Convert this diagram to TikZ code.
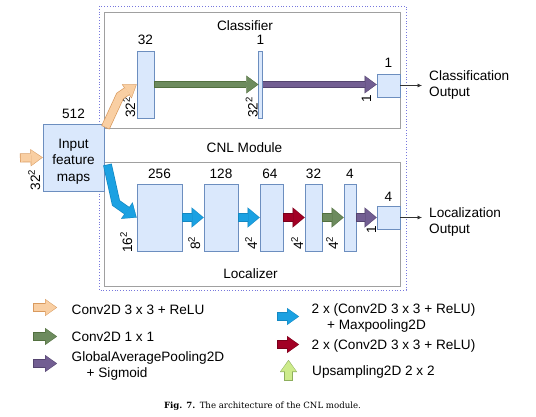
\documentclass[tikz,border=0pt]{standalone}
\usepackage{fontspec}
\setmainfont{Liberation Sans}
\newfontfamily\capfont{DejaVu Serif}
\usetikzlibrary{arrows.meta,calc}
\definecolor{blkfill}{HTML}{DAE8FC}
\definecolor{blkedge}{HTML}{6C8EBF}
\definecolor{boxedge}{HTML}{A0A0A0}
\definecolor{dotedge}{HTML}{7777DD}
\definecolor{orfill}{HTML}{F9CFA3}
\definecolor{oredge}{HTML}{D99A5E}
\definecolor{grfill}{HTML}{6D8B5E}
\definecolor{gredge}{HTML}{52703F}
\definecolor{pufill}{HTML}{725E92}
\definecolor{puedge}{HTML}{54446F}
\definecolor{blfill}{HTML}{1BA1E2}
\definecolor{bledge}{HTML}{1488C2}
\definecolor{rdfill}{HTML}{A20025}
\definecolor{rdedge}{HTML}{78001B}
\definecolor{lgfill}{HTML}{CDEB8B}
\definecolor{lgedge}{HTML}{8DAE5C}
\tikzset{
  blk/.style={draw=blkedge, fill=blkfill, line width=0.8pt, inner sep=0pt},
  txt/.style={inner sep=0pt, anchor=base},
  rtxt/.style={inner sep=0pt, anchor=base, rotate=90},
  ltxt/.style={inner sep=0pt, anchor=base west, align=left},
  gbox/.style={draw=boxedge, line width=1pt},
  dotbox/.style={draw=dotedge, line width=0.8pt, dotted},
  smallout/.style={line width=6.9pt, -{Triangle[width=17.6pt,length=12pt,line width=0.01pt]}},
  smallin/.style={line width=5.5pt, -{Triangle[width=15.6pt,length=10.3pt,line width=0.01pt]}, shorten >=1pt, shorten <=0.7pt},
  bigout/.style={line width=8.8pt, -{Triangle[width=20pt,length=12pt,line width=0.01pt]}},
  bigin/.style={line width=7.4pt, -{Triangle[width=18pt,length=10.3pt,line width=0.01pt]}, shorten >=1pt, shorten <=0.7pt},
  legout/.style={line width=9pt, -{Triangle[width=17pt,length=12pt,line width=0.01pt]}},
  legin/.style={line width=7.6pt, -{Triangle[width=15pt,length=10.3pt,line width=0.01pt]}, shorten >=1pt, shorten <=0.7pt},
  thinarr/.style={draw=black!80, line width=0.6pt, -{Latex[length=4.5pt,width=4pt]}},
}
\newcommand\fatarr[4]{\draw[#1out,draw=#2] #4; \draw[#1in,draw=#3] #4;}
\begin{document}
\begin{tikzpicture}[x=1pt,y=-1pt,font=\fontsize{13.6}{16.5}\selectfont]
\useasboundingbox (0,0) rectangle (536,417);
% frames
\draw[dotbox] (99,6) rectangle (406,290);
\draw[gbox] (104,12.5) rectangle (400,129);
\draw[gbox] (104,163) rectangle (400,286);
\node[txt] (tcls) at (245,30.5) {Classifier};
\node[txt] (tcnl) at (244.5,153) {CNL Module};
\node[txt] (tloc) at (250.5,278) {Localizer};
% input
\node[blk, minimum width=61pt, minimum height=67pt] (in) at (73.5,157.5) {};
\node[txt, align=center] (intxt) at (73.5,181.5) {Input\\feature\\maps};
\node[txt] (n512) at (73.5,119) {512};
\node[rtxt] (rin) at (40,180) {32\textsuperscript{2}};
\coordinate (inSrc) at (20,158);
\fatarr{leg}{oredge}{orfill}{(inSrc) -- (in.west)}
% classifier blocks
\node[blk, minimum width=17pt, minimum height=67pt] (c32) at (145.5,84.5) {};
\node[blk, minimum width=3.5pt, minimum height=67pt] (c1) at (260.5,84.5) {};
\node[blk, minimum width=23pt, minimum height=23pt] (cout) at (388.5,85.5) {};
\node[txt] (tc32) at (145.5,45) {32};
\node[txt] (tc1) at (260.5,45) {1};
\node[txt] (tcout) at (388.5,68) {1};
\node[rtxt] (rc32) at (135,107.5) {32\textsuperscript{2}};
\node[rtxt] (rc1) at (257.5,107.5) {32\textsuperscript{2}};
\node[rtxt] (rcout) at (371,99) {1};
\fatarr{small}{gredge}{grfill}{(c32.east) -- (c1.west)}
\fatarr{small}{puedge}{pufill}{(c1.east) -- (c1.east -| cout.west)}
\fatarr{leg}{oredge}{orfill}{($(in.north east)+(1,4)$) -- (120,96) -- (c32.west)}
% localizer blocks
\node[blk, minimum width=45pt, minimum height=67pt] (l256) at (159.5,217.5) {};
\node[blk, minimum width=34pt, minimum height=67pt] (l128) at (221,217.5) {};
\node[blk, minimum width=23pt, minimum height=67pt] (l64) at (271.5,217.5) {};
\node[blk, minimum width=17pt, minimum height=67pt] (l32) at (313.5,217.5) {};
\node[blk, minimum width=12pt, minimum height=67pt] (l4) at (350,217.5) {};
\node[blk, minimum width=23pt, minimum height=23pt] (lout) at (388.5,217.5) {};
\node[txt] (tl256) at (159.5,179) {256};
\node[txt] (tl128) at (221,179) {128};
\node[txt] (tl64) at (270,179) {64};
\node[txt] (tl32) at (313.5,179) {32};
\node[txt] (tl4) at (350,179) {4};
\node[txt] (tlout) at (388.5,202) {4};
\node[rtxt] (r16) at (132,242.5) {16\textsuperscript{2}};
\node[rtxt] (r8) at (200,243) {8\textsuperscript{2}};
\node[rtxt] (r4a) at (257,243) {4\textsuperscript{2}};
\node[rtxt] (r4b) at (303,243) {4\textsuperscript{2}};
\node[rtxt] (r4c) at (338,243) {4\textsuperscript{2}};
\node[rtxt] (r1) at (376,230) {1};
\fatarr{big}{bledge}{blfill}{($(in.east)+(3,7)$) -- (116,203) -- (l256.west)}
\fatarr{big}{bledge}{blfill}{(l256.east) -- (l128.west)}
\fatarr{big}{bledge}{blfill}{(l128.east) -- (l64.west)}
\fatarr{big}{rdedge}{rdfill}{(l64.east) -- (l32.west)}
\fatarr{big}{gredge}{grfill}{(l32.east) -- (l4.west)}
\fatarr{big}{puedge}{pufill}{(l4.east) -- (lout.west)}
% outputs
\coordinate (coEnd) at (422,85.5);
\coordinate (loEnd) at (422,217.5);
\draw[thinarr] (cout.east) -- (coEnd);
\draw[thinarr] (lout.east) -- (loEnd);
\node[ltxt] (tco) at (429,97) {Classification\\Output};
\node[ltxt] (tlo) at (429,233.5) {Localization\\Output};
% legend
\coordinate (a1s) at (33,307.5); \coordinate (a1e) at (57,307.5);
\coordinate (a2s) at (33,336.5); \coordinate (a2e) at (57,336.5);
\coordinate (a3s) at (33,363.5); \coordinate (a3e) at (57,363.5);
\coordinate (b1s) at (277,316.5); \coordinate (b1e) at (299,316.5);
\coordinate (b2s) at (277,344.5); \coordinate (b2e) at (299,344.5);
\coordinate (b3s) at (288.5,381); \coordinate (b3e) at (288.5,360);
\fatarr{leg}{oredge}{orfill}{(a1s) -- (a1e)}
\fatarr{leg}{gredge}{grfill}{(a2s) -- (a2e)}
\fatarr{leg}{puedge}{pufill}{(a3s) -- (a3e)}
\fatarr{leg}{bledge}{blfill}{(b1s) -- (b1e)}
\fatarr{leg}{rdedge}{rdfill}{(b2s) -- (b2e)}
\fatarr{leg}{lgedge}{lgfill}{(b3s) -- (b3e)}
\node[ltxt] (la1) at (71.5,314) {Conv2D 3 x 3 + ReLU};
\node[ltxt] (la2) at (71.5,341.7) {Conv2D 1 x 1};
\node[ltxt] (la3) at (71.5,361) {GlobalAveragePooling2D};
\node[ltxt] (la3b) at (86.5,377) {+ Sigmoid};
\node[ltxt] (lb1) at (311.5,313.5) {2 x (Conv2D 3 x 3 + ReLU)};
\node[ltxt] (lb1b) at (327,329.5) {+ Maxpooling2D};
\node[ltxt] (lb2) at (311.5,349.5) {2 x (Conv2D 3 x 3 + ReLU)};
\node[ltxt] (lb3) at (312,375) {Upsampling2D 2 x 2};
% caption
\node[txt] (cap) at (262.5,408.5) {\capfont\fontsize{8.6}{10}\selectfont\textbf{Fig. 7.}\hspace{0.5em}The architecture of the CNL module.};
\end{tikzpicture}
\end{document}
